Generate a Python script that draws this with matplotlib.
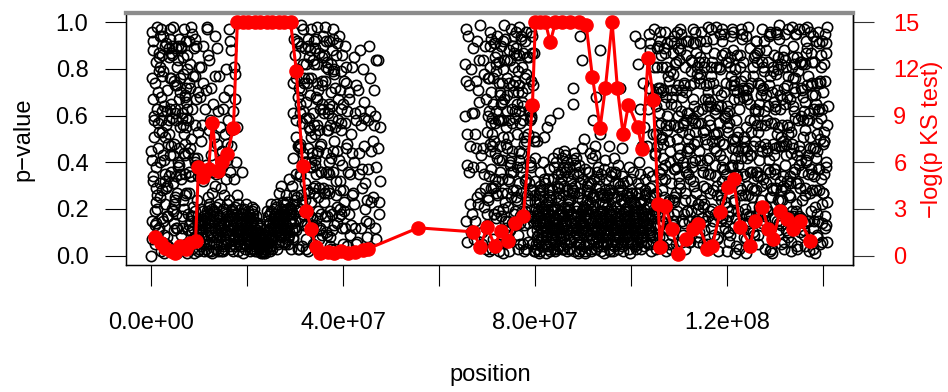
import matplotlib
matplotlib.use("Agg")
import matplotlib.pyplot as plt

plt.rcParams['font.family'] = ['Liberation Sans', 'DejaVu Sans']

# Scatter p-values, read per 1-Mb column of position.
# Each token "dpp": d = tenth of Mb inside the column, pp = p-value x 100.
pvalue_columns = {
    0: "000 215 432 107 651 388 874 923 560 045 719 296 983 141 805 367",
    1: "512 038 794 263 881 457 120 679 346 902 585 731 014 198 825 470",
    2: "153 609 386 922 277 741 058 494 835 316 162 579 990 443 701 228",
    3: "330 876 091 548 217 963 404 685 129 752 056 893 371 634 208 997",
    4: "419 702 065 848 286 531 973 147 390 614 822 259 036 775 498 963",
    5: "061 327 584 839 112 955 473 690 218 746 301 867 025 538 189 412",
    6: "744 189 503 926 035 361 678 852 417 290 109 585 968 233 820 656",
    7: "227 480 813 069 644 392 155 936 718 501 874 043 366 992 259 611",
    8: "908 334 172 595 721 046 463 889 250 617 398 134 777 503 082 942",
    9: "615 093 442 870 239 708 156 981 524 367 040 815 290 653 177 734",
    10: "003 211 408 615 819 106 513 917 304 732 349 556 268 874 481 790",
    11: "702 114 509 921 316 007 618 212 825 439 163 597 371 786 954 698",
    12: "410 005 817 213 620 908 316 701 122 543 727 358 965 184 636 472",
    13: "115 503 809 312 718 006 421 914 230 648 377 862 535 151 789 294",
    14: "208 612 017 904 316 719 511 402 122 838 441 629 355 745 177 963",
    15: "307 014 911 518 203 722 615 409 126 841 533 958 268 748 352 680",
    16: "006 413 819 215 611 902 317 720 124 547 336 297 588 492 271 654",
    17: "109 504 815 312 718 007 421 614 926 233 740 855 162 567 381 478",
    18: "002 310 507 815 212 604 918 109 413 720 022 836",
    19: "405 011 713 208 917 603 320 116 509 822 714 001",
    20: "112 507 803 309 616 014 921 418 206 710 815 602",
    21: "008 404 711 216 913 502 118 610 306 805 019 707",
    22: "305 002 708 110 503 904 206 612 801 409 014 707",
    23: "002 503 104 806 301 705 008 402 903 601 207 004",
    24: "206 010 712 403 908 115 609 317 804 513 019 702",
    25: "004 412 718 209 915 511 107 620 314 816 022 713",
    26: "110 506 812 317 021 709 414 918 203 615 527 812",
    27: "008 314 711 517 220 905 618 112 423 806 030 719",
    28: "405 013 718 220 609 915 126 312 508 821 733 017",
    29: "211 607 019 414 822 915 330 508 726 118 642 893 574 461",
    30: "012 547 803 276 691 934 158 425 772 319 086 603 847 251 965 480",
    31: "199 423 061 738 215 874 357 582 940 126 697 304 813 048 562 271",
    32: "366 702 140 985 513 827 031 259 618 474 793 207 955 382 024 646",
    33: "088 351 927 613 276 444 169 705 892 538 017 784 323 661 240 956",
    34: "474 030 819 293 656 907 141 582 368 725 089 444 213 871 598 335",
    35: "201 665 348 986 112 573 829 436 054 790 318 927 685 263 147 509",
    36: "583 217 940 061 728 392 854 175 609 436 023 761 298 517 880 344",
    37: "035 711 482 256 893 127 664 308 945 570 219 836 403 092 759 688",
    38: "149 526 867 303 614 078 791 432 255 958 180 645 372 721 013 586",
    39: "657 220 094 839 371 518 786 141 463 905 232 679 017 554 328 812",
    40: "312 748 065 581 223 936 457 804 119 674 390 546 862 275 701 028",
    41: "118 435 652 270 844 513 781 926 309 167",
    42: "240 512 773 127 658 385 906 461 222 705",
    43: "071 335 588 829 244 612 462 937 756",
    44: "520 180 447 703 366 815 259 924 631 908",
    45: "314 562 823 137 490 676 258 745",
    46: "225 471 738 612 884 356 149 560 707",
    47: "418 632 284 755 523 346",
    65: "597 382 675 460 852 739 615 806",
    66: "094 580 322 761 447 236 818 610 173",
    67: "261 038 775 415 892 552 307 646 189 925",
    68: "499 171 643 284 810 527 366 022 738 905",
    69: "712 335 590 046 867 221 478 953 184 629 703",
    70: "018 276 545 893 160 729 402 857 334 681 013 596 947 225 770 462",
    71: "391 644 107 882 530 265 979 418 733 052 816 349 591 176 927 704",
    72: "232 911 458 026 770 583 194 647 865 319 502 087 736 441 258 990",
    73: "567 133 806 392 251 948 615 074 380 723 166 855 499 027 612 301",
    74: "884 421 069 739 315 502 997 262 146 658 433 811 084 574 209 740",
    75: "145 762 328 581 913 036 470 819 257 694 042 336 875 618 163 925",
    76: "309 086 645 224 857 479 731 152 598 917 403 265 028 786 541 370",
    77: "713 458 194 976 370 027 651 832 405 219 564 093 748 381 136 892",
    78: "452 617 033 285 840 196 762 514 939 078 323 685 417 226 862 103",
    79: "028 394 749 160 615 923 275 487 851 038 702 259 196 564 410 816",
    80: "002 311 518 706 914 120 403 827 215 609 032 724 417 801 449 930",
    81: "107 513 804 221 916 310 628 002 419 725 833 112 518 036 951 740",
    82: "005 412 719 208 915 623 301 826 114 509 031 718 222 404 555 837",
    83: "212 017 803 509 324 911 615 428 106 733 220 814 002 519 158 642 838",
    84: "309 006 614 221 818 503 927 111 416 735 002 829 213 520 861 744 340",
    85: "104 518 712 029 921 307 615 433 210 826 012 738 419 503 945 642 231",
    86: "411 006 819 315 702 924 528 113 640 236 017 822 409 537 143 734 921",
    87: "203 614 009 818 432 727 120 506 941 315 038 729 611 224 865 972",
    88: "510 002 717 316 925 108 612 834 419 239 044 805 721 513 442 901",
    89: "108 603 415 920 712 331 006 824 518 239 746 914 202 394 884 611",
    90: "301 709 012 516 824 221 919 437 605 113 830 250 727 402 618 936",
    91: "205 811 018 423 709 614 327 942 503 136 720 031 819 444 612 907",
    92: "412 007 703 518 225 914 629 110 836 321 543 058 768 447 908 415",
    93: "006 514 209 822 711 317 926 104 635 419 038 588 552 233 815 702",
    94: "311 008 716 522 913 204 628 119 805 437 410 016 733 925 541 301",
    95: "109 602 415 820 912 327 006 734 213 518 447 836 021 714 303",
    96: "506 014 812 219 707 325 913 411 636 102 821 535 018 442 709",
    97: "203 717 509 014 824 611 331 906 116 428 772 025 813 339 508",
    98: "612 004 419 815 207 926 311 720 518 034 146 813 609 423 302",
    99: "117 503 806 210 924 312 008 619 725 415 032 911 227 538 701",
    100: "405 012 718 209 921 613 316 804 127 522 033 710 914 436 619 894",
    101: "208 911 614 003 727 119 418 822 506 331 016 935 382 991 963 740",
    102: "103 509 817 212 620 006 928 415 311 724 019 574 833 247 655",
    103: "006 412 718 214 909 321 516 027 825 611 436 563 695 991 888 772 347",
    104: "011 309 517 720 912 205 608 826 434 552 668 781 897 943",
    105: "044 318 572 861 127 690 935 203 756 481 019 347 808 264 613 992",
    106: "270 533 096 817 351 742 186 965 428 604 072 889 315 537 250 771",
    107: "611 187 849 302 975 460 033 718 256 591 824 139 677 412 905 368",
    108: "823 056 412 678 231 994 365 140 787 509 292 613 045 856 371 724",
    109: "137 789 364 025 650 212 873 538 091 946 405 760 182 327 619 483",
    110: "506 243 918 671 084 395 757 129 840 462 615 031 974 288 553 197",
    111: "392 661 124 835 507 073 946 281 719 358 014 892 436 570 203 645",
    112: "758 015 479 233 891 640 306 967 152 524 783 419 061 638 897 346",
    113: "064 527 806 391 148 962 253 715 487 030 649 174 822 396 515 781",
    114: "921 283 657 110 474 839 022 596 341 763 208 485 930 057 624 176",
    115: "315 764 036 589 222 917 450 181 673 805 354 036 748 529 111 967",
    116: "677 142 820 456 098 335 781 564 203 949 427 070 612 883 258 504",
    117: "209 830 561 074 745 418 193 926 652 287 871 539 346 015 798 463",
    118: "543 381 008 715 164 897 626 249 480 053 932 317 769 495 102 838",
    119: "086 659 437 902 370 512 248 835 016 774 141 687 523 961 395 229",
    120: "462 117 794 253 938 021 685 406 873 538 210 946 064 357 719 581",
    121: "835 573 212 649 097 367 916 780 150 423 601 288 742 039 575 904",
    122: "151 928 686 339 514 842 070 253 467 997 345 612 875 186 729 403",
    123: "720 046 371 807 283 955 634 112 549 268 093 726 451 918 335 677",
    124: "398 614 953 145 472 001 789 326 865 617 230 858 504 071 943 242",
    125: "017 481 225 763 609 347 136 992 410 585 762 074 936 315 849 528",
    126: "574 236 847 092 318 765 453 621 187 934 509 362 028 719 641 283",
    127: "903 762 130 418 856 581 024 297 679 345 817 156 433 692 271 069",
    128: "246 358 694 977 031 219 802 564 345 712 088 483 925 641 169 836",
    129: "681 095 429 316 743 886 157 470 012 628 964 225 579 301 837 757",
    130: "129 747 063 585 932 278 611 315 899 452 037 814 196 680 524 395",
    131: "467 213 872 649 105 524 988 351 730 063 419 785 247 906 634 182",
    132: "752 556 311 084 677 926 432 195 568 817 243 610 381 029 955 708",
    133: "034 890 617 253 419 167 746 885 302 598 972 131 664 448 025 876",
    134: "585 322 947 716 082 643 259 504 170 831 395 062 917 276 758 419",
    135: "210 671 483 039 851 316 097 768 624 245 536 909 372 183 441 997",
    136: "843 129 254 592 366 798 935 011 487 658 104 326 773 540 282 615",
    137: "396 487 728 161 803 058 573 635 246 912 669 437 015 894 351 774",
    138: "657 034 115 874 542 221 369 996 708 183 845 752 428 609 063 301",
    139: "128 763 681 305 927 450 814 237 062 586 191 948 533 375 706 822",
    140: "412 249 856 070 638 182 495 723 317 964 540 806 153 587 235 691",
}

# Further points read from the darkest parts of the cloud (same token format)
pvalue_columns_more = {
    0: "558 929 176 713 334 492", 1: "653 311 997 740 126 587",
    2: "068 832 515 206 951 764", 3: "789 262 943 517 005 658",
    4: "176 543 811 924 320 087", 5: "793 640 258 976 381 134",
    6: "312 070 797 459 624 948", 7: "586 035 827 172 463 758",
    8: "104 712 317 901 510 215", 9: "208 602 911 415 019 713",
    10: "705 114 902 320 610", 11: "405 811 015 619 303",
    12: "502 114 709 919 318", 13: "405 019 608 211 802",
    14: "505 810 114 613 920", 15: "002 505 817 213 710",
    16: "503 109 716 818 404", 17: "305 811 013 610 918",
    18: "107 405 713 918 016 611", 19: "205 812 018 610 413 907",
    20: "004 711 219 505 908 316", 21: "115 609 303 817 420 014",
    22: "209 506 011 804 613 309", 23: "106 304 709 002 605 808",
    24: "005 311 614 907 208 818", 25: "108 516 203 810 617 019",
    26: "305 714 022 411 816 609", 27: "206 413 018 809 515 722",
    28: "111 507 019 814 323 710", 29: "003 712 418 120 924",
    30: "135 720 392 568 946 211", 31: "644 290 518 989 035 776",
    32: "859 113 428 776 690 303", 33: "516 882 054 397 729 138",
    34: "052 616 987 139 467 745", 35: "436 794 029 575 863 211",
    36: "127 965 481 836 310 654", 37: "879 542 163 718 304 997",
    70: "590 837 124 376 648 959", 71: "003 557 862 229 418 785",
    72: "669 305 817 142 574 958", 73: "041 793 358 906 584 220",
    74: "532 176 925 688 351 027", 75: "587 214 859 473 996 390",
    76: "914 562 238 673 089 805", 77: "266 919 587 044 702 338",
    78: "731 958 149 506 372 824", 79: "942 573 305 887 628 117",
    80: "105 513 822 308 619 026", 81: "204 611 920 315 708 028",
    82: "115 603 828 310 733 019", 83: "308 714 025 411 916 620",
    84: "112 425 007 918 630 704", 85: "209 616 024 808 336 703",
    86: "114 728 305 519 911 030", 87: "107 418 828 512 003 935",
    88: "214 609 027 911 330 805", 89: "305 719 027 413 910 136",
    90: "104 511 828 217 620 033", 91: "309 602 925 416 022 731",
    92: "217 804 026 611 333 910", 93: "112 427 705 919 230 616",
    94: "106 514 023 818 325 609", 95: "211 805 419 026 628 913",
    96: "304 617 027 910 212 731", 97: "108 419 622 005 915 730",
    98: "105 711 028 416 819 231", 99: "406 021 814 609 325 117",
    100: "106 523 811 027 318 712", 101: "105 512 823 027 610 929",
    102: "208 715 023 411 926 604", 103: "118 505 622 929 313 810",
    104: "102 418 725 016 606 330",
    105: "736 152 489 905 270", 106: "013 648 925 381 157",
    107: "554 096 723 381 849", 108: "179 937 468 203 615",
    109: "855 471 018 596 742", 110: "391 709 856 034 568",
    111: "227 950 486 619 138", 112: "584 106 832 273 959",
    113: "341 678 920 257 113", 114: "478 145 716 953 392",
    115: "692 283 841 467 005", 116: "035 519 797 174 366",
    117: "681 252 907 434 128", 118: "219 764 357 916 624",
    119: "560 092 715 348 883", 120: "183 877 432 609 055",
    121: "746 324 858 196 471", 122: "034 563 219 781 926",
    123: "869 508 195 646 372", 124: "515 843 167 736 094",
    125: "658 129 886 221 477", 126: "405 973 156 688 234",
    127: "572 214 948 383 815", 128: "121 673 437 896 519",
    129: "935 548 203 866 112", 130: "371 924 655 046 793",
    131: "803 069 556 328 947", 132: "248 797 065 473 139",
    133: "581 206 936 344 712", 134: "137 879 431 603 295",
    135: "758 129 360 914 582", 136: "062 441 689 214 877",
    137: "519 946 102 783 227", 138: "246 592 937 465 718",
    139: "474 015 892 659 263", 140: "027 375 613 149 898",
}

# KS test window positions (Mb) and -log(p), capped at 15
ks_pos_mb = [0.8, 1.9, 2.9, 4.0, 5.0, 6.0, 7.1, 8.1, 9.2, 9.8, 10.8, 11.9, 12.7,
             13.8, 14.8, 15.8, 17.1, 17.9, 19.0, 20.2, 21.5, 22.7, 24.0, 25.2,
             26.5, 27.7, 29.0, 30.2, 31.5, 32.3, 33.3, 34.2, 35.2, 36.7, 38.1,
             39.6, 41.0, 42.5, 44.0, 45.2, 55.6, 67.1, 68.5, 70.0, 71.5, 72.9,
             74.4, 75.8, 77.5, 79.4, 80.0, 81.0, 82.1, 83.1, 84.2, 85.6, 87.3,
             89.0, 90.6, 91.9, 93.5, 94.6, 96.0, 97.1, 98.3, 99.4, 101.3, 102.3,
             103.5, 104.6, 105.6, 106.0, 107.1, 108.5, 109.8, 111.3, 112.9,
             114.0, 115.8, 116.9, 118.5, 120.2, 121.3, 122.7, 124.8, 125.8,
             127.3, 128.5, 129.6, 131.0, 132.5, 133.8, 135.2, 137.3]
ks_logp = [1.21, 0.83, 0.51, 0.32, 0.19, 0.64, 0.45, 0.83, 0.96, 5.68, 5.04, 5.55,
           8.55, 5.42, 6.0, 6.51, 8.23, 15, 15, 15, 15, 15, 15, 15, 15, 15, 15,
           11.87, 5.74, 2.87, 1.72, 0.57, 0.19, 0.26, 0.19, 0.32, 0.19, 0.26,
           0.38, 0.45, 1.79, 1.53, 0.57, 1.85, 0.64, 1.6, 0.96, 2.1, 2.55, 9.7,
           15, 15, 15, 13.72, 15, 15, 15, 15, 14.8, 11.49, 8.23, 10.78, 15,
           10.78, 7.79, 9.7, 8.3, 6.83, 12.7, 10.02, 3.32, 0.57, 3.19, 1.72,
           0.13, 1.08, 1.72, 2.04, 0.45, 0.64, 2.81, 4.4, 4.91, 1.85, 0.64,
           2.23, 3.13, 1.72, 1.08, 2.87, 2.36, 1.72, 2.23, 0.96]

x_ticks = [0, 2e7, 4e7, 6e7, 8e7, 1e8, 1.2e8, 1.4e8]
x_tick_labels = ["0.0e+00", "", "4.0e+07", "", "8.0e+07", "", "1.2e+08", ""]
y_ticks = [0.0, 0.2, 0.4, 0.6, 0.8, 1.0]
y_tick_labels = ["0.0", "0.2", "0.4", "0.6", "0.8", "1.0"]
y2_ticks = [0, 3, 6, 9, 12, 15]

scatter_x, scatter_p = [], []
for table in (pvalue_columns, pvalue_columns_more):
    for col, tokens in table.items():
        for tok in tokens.split():
            scatter_x.append((col + int(tok[0]) / 10) * 1e6)
            scatter_p.append(int(tok[1:]) / 100)
ks_pos = [v * 1e6 for v in ks_pos_mb]

FS = 17
RED = "#FF0000"
fig = plt.figure(figsize=(9.48, 3.92), dpi=100)
ax = fig.add_axes([126 / 948, 1 - 265 / 392, (853 - 126) / 948, (265 - 13) / 392])
ax.plot(scatter_x, scatter_p, linestyle="none", marker="o", markersize=7.4,
        markerfacecolor="none", markeredgecolor="black", markeredgewidth=1.2)
ax.set_xlim(-5.3e6, 146.2e6)
ax.set_ylim(-0.04, 1.04)
ax.set_xticks(x_ticks)
ax.set_xticklabels(x_tick_labels, fontsize=FS)
ax.set_yticks(y_ticks)
ax.set_yticklabels(y_tick_labels, fontsize=FS)
ax.tick_params(axis="x", length=15, width=0.8, pad=19, color="black")
ax.tick_params(axis="y", length=15, width=0.8, pad=12, color="black")
for s in ["left", "bottom", "right"]:
    ax.spines[s].set_linewidth(1.0)
ax.spines["top"].set_color("#8c8c8c")
ax.spines["top"].set_linewidth(3)

ax2 = ax.twinx()
ax2.plot(ks_pos, ks_logp, color=RED, linewidth=2.2, marker="o", markersize=9.5,
         markerfacecolor=RED, markeredgecolor=RED)
ax2.set_ylim(-0.6, 15.6)
ax2.set_yticks(y2_ticks)
ax2.set_yticklabels([str(v) for v in y2_ticks], fontsize=FS, color=RED)
ax2.tick_params(axis="y", length=15, width=0.8, pad=14, color="#333333")
ax2.spines["top"].set_color("#8c8c8c")
ax2.spines["top"].set_linewidth(3)
ax2.spines["right"].set_linewidth(1.0)

fig.text(490 / 948, 1 - 375 / 392, "position", fontsize=FS, ha="center", va="center")
fig.text(23 / 948, 1 - 139 / 392, "p\u2212value", fontsize=FS, ha="center",
         va="center", rotation=90)
fig.text(932 / 948, 1 - 139 / 392, "\u2212log(p KS test)", fontsize=FS, ha="center",
         va="center", rotation=90, color=RED)

fig.savefig("out.png", dpi=100)
